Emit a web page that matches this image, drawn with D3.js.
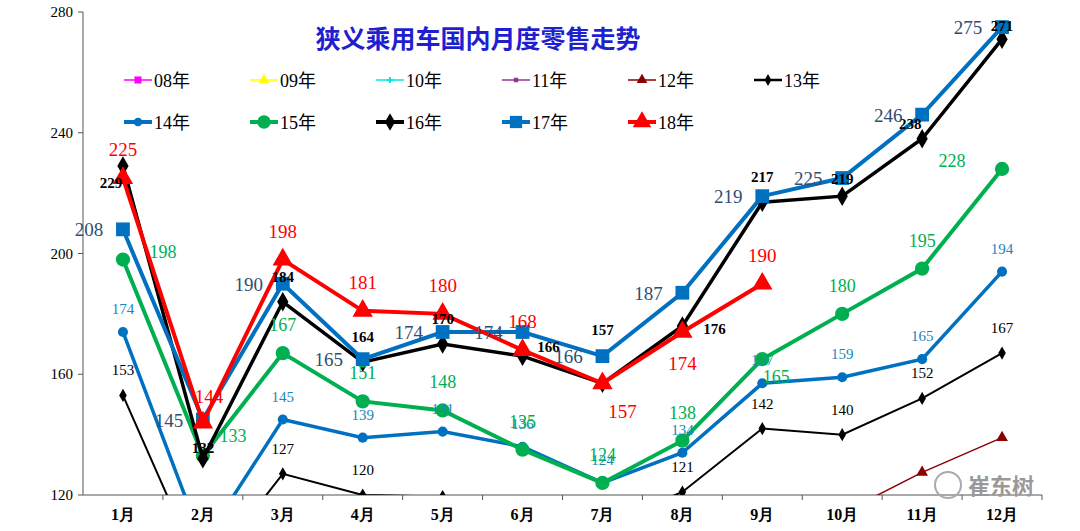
<!DOCTYPE html>
<html><head><meta charset="utf-8">
<script src="https://cdn.jsdelivr.net/npm/d3@7"></script>
<style>body{margin:0;background:#fff}</style>
</head><body><div id="chart"></div>
<script>
const months = ["1月","2月","3月","4月","5月","6月","7月","8月","9月","10月","11月","12月"];
const yTicks = [120,160,200,240,280];
const v12 = [null,null,null,null,null,null,null,null,null,114,127.5,139];
const v13 = [153,93,127,120,119.5,117,110,121,142,140,152,167];
const v14 = [174,104,145,139,141,136,124,134,157,159,165,194];
const v15 = [198,133,167,151,148,135,124,138,165,180,195,228];
const v16 = [229,132,184,164,170,166,157,176,217,219,238,271];
const v17 = [208,145,190,165,174,174,166,187,219,225,246,275];
const v18 = [225,144,198,181,180,168,157,174,190];

const W = 1080, H = 531, padL = 83, padR = 1042, plotTop = 12, plotBottom = 495;
const svg = d3.select("#chart").append("svg").attr("width", W).attr("height", H);

const x = d3.scaleBand().domain(months).range([padL, padR]);
const y = d3.scaleLinear().domain([120, 280]).range([plotBottom, plotTop]);
const cx = i => x(months[i]) + x.bandwidth() / 2;

// axes
svg.append("line").attr("x1", padL).attr("x2", padL).attr("y1", plotTop).attr("y2", plotBottom).attr("stroke", "#555");
svg.append("line").attr("x1", padL).attr("x2", padR).attr("y1", plotBottom).attr("y2", plotBottom).attr("stroke", "#555");
yTicks.forEach(t => {
  svg.append("line").attr("x1", padL - 5).attr("x2", padL).attr("y1", y(t)).attr("y2", y(t)).attr("stroke", "#555");
  svg.append("text").attr("x", padL - 10).attr("y", y(t) + 5).attr("text-anchor", "end")
    .style("font", "15px 'Liberation Serif'").text(t);
});
months.forEach((m, i) => {
  svg.append("line").attr("x1", x(m) + x.bandwidth()).attr("x2", x(m) + x.bandwidth())
    .attr("y1", plotBottom).attr("y2", plotBottom + 5).attr("stroke", "#555");
  svg.append("text").attr("x", cx(i)).attr("y", plotBottom + 25).attr("text-anchor", "middle")
    .style("font", "bold 16px 'Liberation Serif'").text(m);
});

svg.append("defs").append("clipPath").attr("id", "clip").append("rect")
  .attr("x", padL).attr("y", 0).attr("width", padR - padL).attr("height", plotBottom);

const g = svg.append("g").attr("clip-path", "url(#clip)");

const series = [
  {vals: v12, color: "#8b0000", w: 1.5, sym: d3.symbolTriangle, size: 60, lc: null},
  {vals: v13, color: "#000", w: 2, sym: d3.symbolDiamond, size: 50, lc: "#000", fs: 15, off: [0, -20]},
  {vals: v14, color: "#0070c0", w: 3.5, sym: d3.symbolCircle, size: 80, lc: "#1a86c0", fs: 15, off: [0, -18]},
  {vals: v15, color: "#00b050", w: 4, sym: d3.symbolCircle, size: 160, lc: "#00b050", fs: 18, off: [0, -22],
   ov: {0: [40, -2], 1: [30, -14], 8: [14, 24], 11: [-50, -2]}},
  {vals: v16, color: "#000", w: 3.5, sym: d3.symbolDiamond, size: 110, lc: "#000", fs: 15, bold: true, off: [0, -20],
   ov: {0: [-12, 22], 1: [0, -6], 5: [26, -4], 6: [0, -48], 7: [32, 8], 9: [0, -12], 10: [-12, -10], 11: [0, -8]}},
  {vals: v17, color: "#0070c0", w: 4, sym: d3.symbolSquare, size: 190, lc: "#2f4e73", fs: 19, off: [-34, 7]},
  {vals: v18, color: "#ff0000", w: 4, sym: d3.symbolTriangle, size: 180, lc: "#ff0000", fs: 19, off: [0, -22],
   ov: {1: [6, -20], 6: [20, 35], 7: [0, 38]}}
];

const line = d3.line().defined(d => d != null).x((d, i) => cx(i)).y(d => y(d));
series.forEach(s => {
  g.append("path").datum(s.vals).attr("fill", "none").attr("stroke", s.color)
    .attr("stroke-width", s.w).attr("d", line);
  s.vals.forEach((v, i) => {
    if (v == null) return;
    g.append("path").attr("d", d3.symbol(s.sym, s.size)()).attr("fill", s.color)
      .attr("transform", `translate(${cx(i)},${y(v)})`);
  });
});
series.forEach(s => {
  if (!s.lc) return;
  s.vals.forEach((v, i) => {
    if (v == null || v < 120) return;
    const o = (s.ov && s.ov[i]) || s.off;
    svg.append("text").attr("x", cx(i) + o[0]).attr("y", y(v) + o[1]).attr("text-anchor", "middle")
      .attr("fill", s.lc).style("font", `${s.bold ? "bold " : ""}${s.fs}px 'Liberation Serif'`)
      .text(Math.round(v));
  });
});

// title
svg.append("text").attr("x", 478).attr("y", 48).attr("text-anchor", "middle").attr("fill", "#1f1fd0")
  .style("font", "bold 25px 'Noto Sans CJK SC'").text("狭义乘用车国内月度零售走势");

// legend
const legend = [
  {name: "08年", color: "#ff00ff", sym: d3.symbolSquare, size: 50, w: 1.5},
  {name: "09年", color: "#ffff00", sym: d3.symbolTriangle, size: 50, w: 1.5},
  {name: "10年", color: "#00e5ee", sym: d3.symbolCross, size: 20, w: 1.5},
  {name: "11年", color: "#993399", sym: d3.symbolSquare, size: 20, w: 1.5},
  {name: "12年", color: "#8b0000", sym: d3.symbolTriangle, size: 50, w: 1.5},
  {name: "13年", color: "#000", sym: d3.symbolDiamond, size: 40, w: 2.5},
  {name: "14年", color: "#0070c0", sym: d3.symbolCircle, size: 60, w: 4},
  {name: "15年", color: "#00b050", sym: d3.symbolCircle, size: 140, w: 4},
  {name: "16年", color: "#000", sym: d3.symbolDiamond, size: 90, w: 4},
  {name: "17年", color: "#0070c0", sym: d3.symbolSquare, size: 150, w: 4},
  {name: "18年", color: "#ff0000", sym: d3.symbolTriangle, size: 150, w: 4}
];
legend.forEach((l, i) => {
  const lx = 124 + (i % 6) * 126, ly = i < 6 ? 80 : 122;
  svg.append("line").attr("x1", lx).attr("x2", lx + 28).attr("y1", ly).attr("y2", ly)
    .attr("stroke", l.color).attr("stroke-width", l.w);
  svg.append("path").attr("d", d3.symbol(l.sym, l.size)()).attr("fill", l.color)
    .attr("transform", `translate(${lx + 14},${ly})`);
  svg.append("text").attr("x", lx + 30).attr("y", ly + 7).style("font", "18px 'Liberation Serif', 'Noto Sans CJK SC'")
    .text(l.name);
});

// watermark
svg.append("circle").attr("cx", 948).attr("cy", 485).attr("r", 13).attr("fill", "none").attr("stroke", "#aaa").attr("stroke-width", 2);
svg.append("text").attr("x", 968).attr("y", 494).attr("fill", "#999")
  .style("font", "bold 22px 'Noto Sans CJK SC'").text("崔东树");
</script></body></html>
